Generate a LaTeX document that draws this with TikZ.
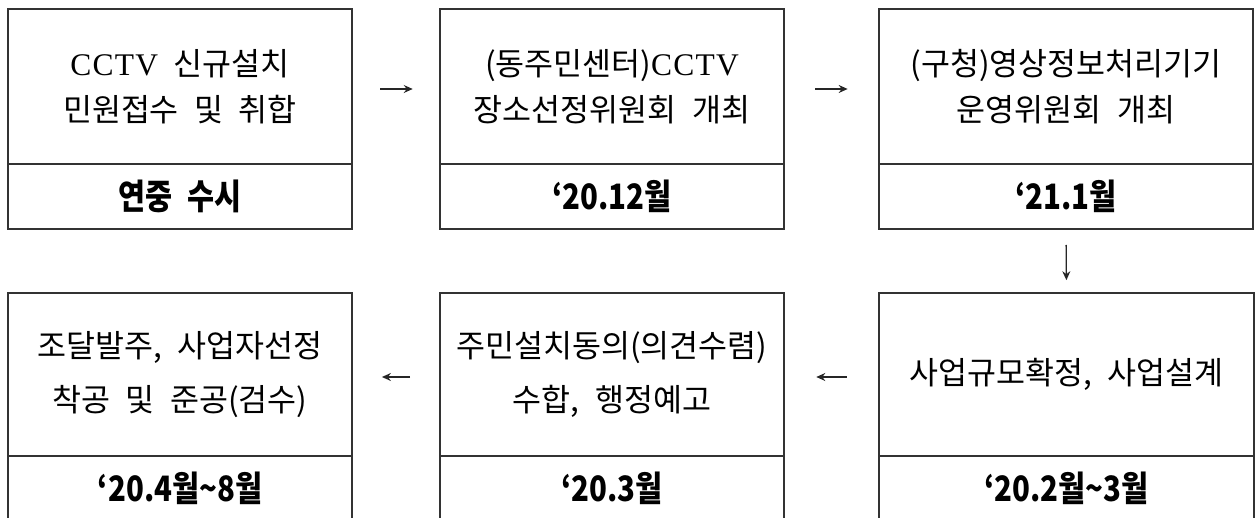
\documentclass[tikz,border=0pt]{standalone}
\usepackage{fontspec}
\setmainfont{Noto Sans CJK KR}[WordSpace=2.2]
\newfontfamily\serifl{Liberation Serif}[LetterSpace=4]
\newcommand\cctv{{\serifl CCTV}}
\newcommand\dtxt[1]{\scalebox{0.84}[1]{#1}}
\usetikzlibrary{arrows.meta,calc}
\begin{document}
\begin{tikzpicture}[x=1pt,y=-1pt,
  box/.style={draw=black!80, line width=1.3pt, rectangle, inner sep=0pt, outer sep=0pt, anchor=north west},
  mainbox/.style={box, align=center, font=\fontsize{31.5}{46}\selectfont},
  lowbox/.style={box, align=center, font=\fontsize{31.5}{54}\selectfont},
  datebox/.style={box, minimum height=65pt, font=\bfseries\fontsize{35}{38}\selectfont},
  arr/.style={-{Stealth[length=9pt,width=8pt,inset=3pt]}, line width=1.3pt, draw=black!85}]
\useasboundingbox (0,0) rectangle (1255,518);
\clip (0,0) rectangle (1255,518);
% top row
\node[mainbox, minimum width=344pt, minimum height=155pt] (s1) at (8,9) {\cctv\ 신규설치\\민원접수 및 취합};
\node[datebox, minimum width=344pt] (s1d) at (s1.south west) {\dtxt{연중 수시}};
\node[mainbox, minimum width=344pt, minimum height=155pt] (s2) at (440,9) {(동주민센터)\cctv\\장소선정위원회 개최};
\node[datebox, minimum width=344pt] (s2d) at (s2.south west) {\dtxt{‘20.12월}};
\node[mainbox, minimum width=374pt, minimum height=155pt] (s3) at (879,9) {(구청)영상정보처리기기\\운영위원회 개최};
\node[datebox, minimum width=374pt] (s3d) at (s3.south west) {\dtxt{‘21.1월}};
% bottom row
\node[lowbox, minimum width=375pt, minimum height=163pt] (s4) at (879,293) {사업규모확정, 사업설계};
\node[datebox, minimum width=375pt] (s4d) at (s4.south west) {\dtxt{‘20.2월\textasciitilde3월}};
\node[lowbox, minimum width=344pt, minimum height=163pt] (s5) at (440,293) {주민설치동의(의견수렴)\\수합, 행정예고};
\node[datebox, minimum width=344pt] (s5d) at (s5.south west) {\dtxt{‘20.3월}};
\node[lowbox, minimum width=344pt, minimum height=163pt] (s6) at (8,293) {조달발주, 사업자선정\\착공 및 준공(검수)};
\node[datebox, minimum width=344pt] (s6d) at (s6.south west) {\dtxt{‘20.4월\textasciitilde8월}};
% connectors
\draw[arr] ([yshift=-2.5pt]$(s1.east)!0.32!(s2.west)$) -- ([yshift=-2.5pt]$(s1.east)!0.69!(s2.west)$);
\draw[arr] ([yshift=-2.5pt]$(s2.east)!0.33!(s3.west)$) -- ([yshift=-2.5pt]$(s2.east)!0.67!(s3.west)$);
\draw[arr] ($(s3d.south)!0.25!(s4.north)$) -- ($(s3d.south)!0.8!(s4.north)$);
\draw[arr] ([yshift=-2.5pt]$(s4.west)!0.34!(s5.east)$) -- ([yshift=-2.5pt]$(s4.west)!0.66!(s5.east)$);
\draw[arr] ([yshift=-2.5pt]$(s5.west)!0.34!(s6.east)$) -- ([yshift=-2.5pt]$(s5.west)!0.66!(s6.east)$);
\end{tikzpicture}
\end{document}
